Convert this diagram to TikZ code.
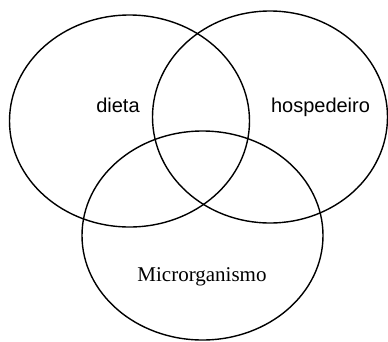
\documentclass[tikz,border=0pt]{standalone}
\usepackage{fontspec}
\setmainfont{Liberation Serif}
\newfontfamily\arialfont{Liberation Sans}
\tikzset{
  venn/.style={draw=black, line width=1.4pt},
  sanslabel/.style={font=\arialfont\fontsize{20}{24}\selectfont, anchor=base, inner sep=0pt},
  seriflabel/.style={font=\fontsize{21}{25}\selectfont, anchor=base, inner sep=0pt}
}
\begin{document}
\begin{tikzpicture}[x=1pt,y=-1pt]
\useasboundingbox (0,0) rectangle (388,341);
\draw[venn] (129.5,121) ellipse [x radius=120, y radius=106];
\draw[venn] (270,117) ellipse [x radius=117.5, y radius=106];
\draw[venn] (202.5,235.5) ellipse [x radius=120.5, y radius=104.5];
\node[sanslabel] (dieta) at (118,112) {dieta};
\node[sanslabel] (hosp) at (320.5,112) {hospedeiro};
\node[seriflabel] (micro) at (202,281) {Microrganismo};
\end{tikzpicture}
\end{document}
